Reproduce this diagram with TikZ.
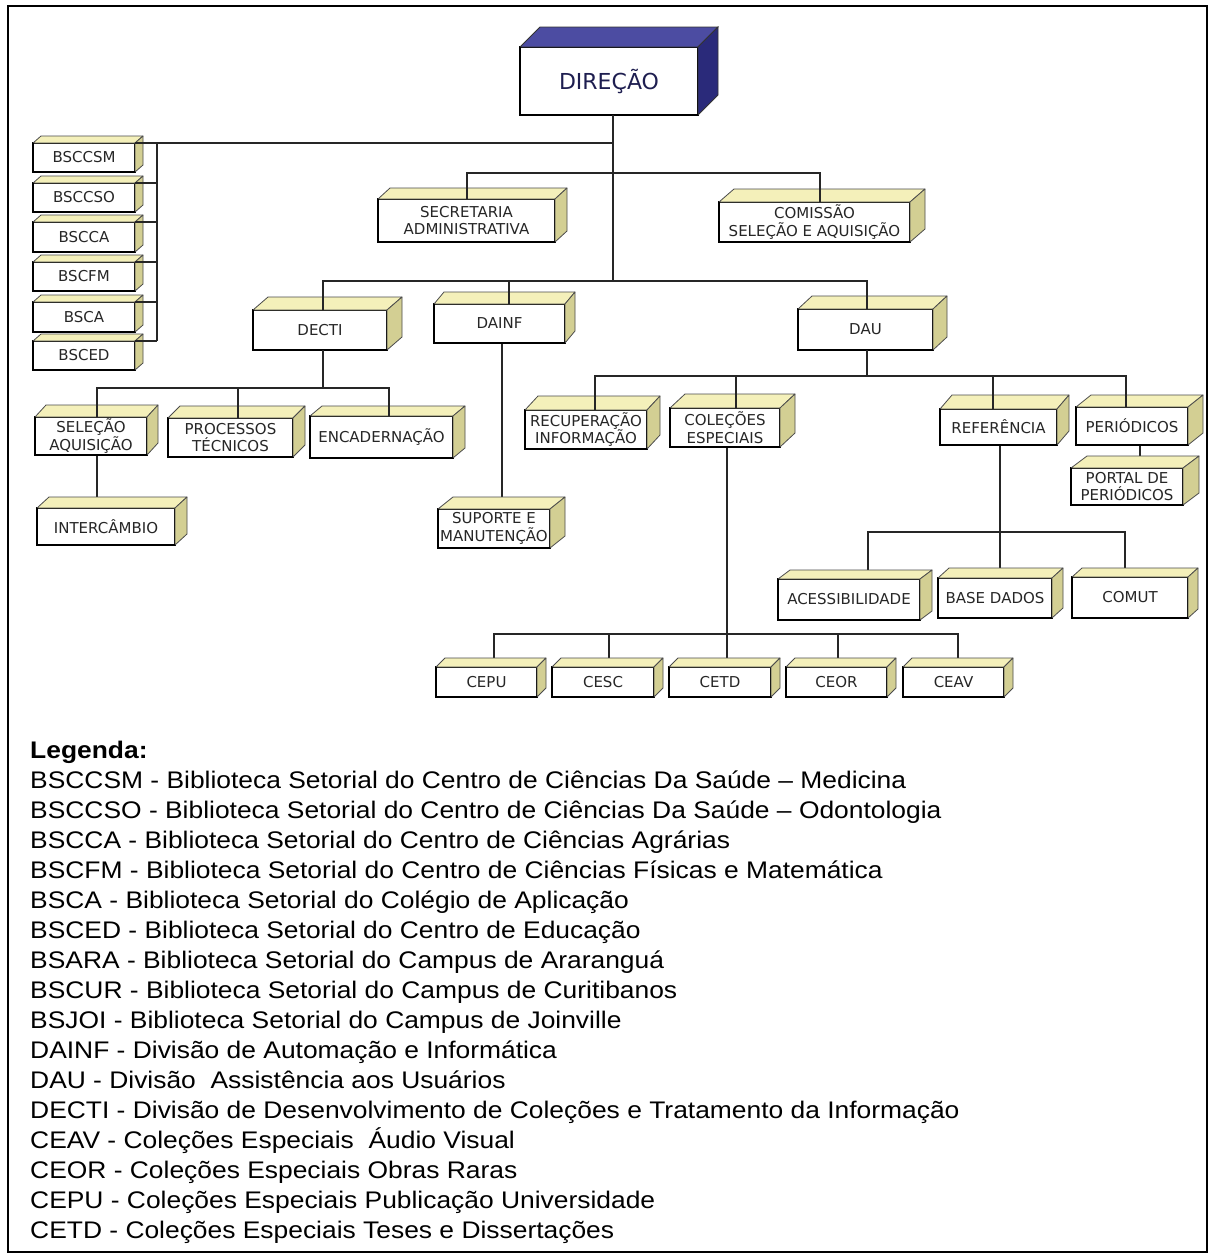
\documentclass[tikz,border=0pt]{standalone}
\usepackage{fontspec}
\setmainfont{Liberation Sans}
\newfontfamily\boxfont{DejaVu Sans}
\newfontfamily\legfont[FakeStretch=1.1]{Liberation Sans}
\pgfdeclarelayer{background}
\pgfsetlayers{background,main}
\definecolor{topy}{HTML}{F4F0BA}
\definecolor{sidey}{HTML}{D3CF93}
\definecolor{topb}{HTML}{4C4CA2}
\definecolor{sideb}{HTML}{2A2A7A}
\definecolor{navy}{HTML}{1E1E50}
\newcommand\cubebox[9][]{%
  \pgfmathsetmacro\cbx{(#3+#5)/2}%
  \pgfmathsetmacro\cby{(#4+#6)/2}%
  \pgfmathsetmacro\cbw{#5-#3}%
  \pgfmathsetmacro\cbh{#6-#4}%
  \node[front,minimum width=\cbw pt,minimum height=\cbh pt,#1] (#2) at (\cbx,\cby) {#9};
  \filldraw[cubetop] (#2.north west) -- ++(#7,-#8) -- ([shift={(#7,-#8)}]#2.north east) -- (#2.north east) -- cycle;
  \filldraw[cubeside] (#2.north east) -- ([shift={(#7,-#8)}]#2.north east) -- ([shift={(#7,-#8)}]#2.south east) -- (#2.south east) -- cycle;
  \draw[edgethick] (#2.north west) -- (#2.south west) -- (#2.south east);
}
\begin{document}
\begin{tikzpicture}[x=1pt,y=-1pt,
  front/.style={draw=black,line width=1.3pt,fill=white,outer sep=0pt,inner sep=0pt,
    align=center,text=black!85,font=\boxfont\fontsize{15}{17.5}\selectfont},
  cubetop/.style={fill=topy,draw=black!70,line width=0.8pt,line join=round},
  cubeside/.style={fill=sidey,draw=black!70,line width=0.8pt,line join=round},
  edgethick/.style={line width=2.6pt,line join=miter},
  conn/.style={draw=black!85,line width=1.4pt},
  leg/.style={anchor=base west,inner sep=0pt,font=\legfont\fontsize{24}{30}\selectfont}]

\useasboundingbox (0,0) rectangle (1214,1258);
\begin{pgfonlayer}{background}
\fill[white] (0,0) rectangle (1214,1258);
\end{pgfonlayer}
\draw[line width=1.8pt] (8,6) rectangle (1207,1252);

% ---------- boxes ----------
\begin{scope}[cubetop/.style={fill=topb,draw=black!80,line width=0.8pt},
              cubeside/.style={fill=sideb,draw=black!80,line width=0.8pt}]
\cubebox[line width=2pt,text=navy,font=\boxfont\fontsize{22}{26}\selectfont]{dir}{520}{47}{698}{115}{20}{20}{DIREÇÃO}
\end{scope}

\cubebox{bsccsm}{33}{143}{135}{172}{8}{7}{BSCCSM}
\cubebox{bsccso}{33}{183}{135}{212}{8}{7}{BSCCSO}
\cubebox{bscca}{33}{222}{135}{252}{8}{7}{BSCCA}
\cubebox{bscfm}{33}{262}{135}{291}{8}{7}{BSCFM}
\cubebox{bsca}{33}{302}{135}{332}{8}{7}{BSCA}
\cubebox{bsced}{33}{341}{135}{370}{8}{7}{BSCED}

\cubebox{sec}{378}{199}{555}{242}{12}{11}{SECRETARIA\\ADMINISTRATIVA}
\cubebox{com}{719}{202}{910}{242}{15}{13}{COMISSÃO\\SELEÇÃO E AQUISIÇÃO}

\cubebox{decti}{253}{310}{387}{350}{15}{13}{DECTI}
\cubebox{dainf}{434}{304}{565}{343}{10}{12}{DAINF}
\cubebox{dau}{798}{309}{933}{350}{14}{13}{DAU}

\cubebox{sel}{35}{417}{147}{455}{11}{12}{SELEÇÃO\\AQUISIÇÃO}
\cubebox{proc}{168}{418}{293}{457}{12}{12}{PROCESSOS\\TÉCNICOS}
\cubebox{enc}{310}{416}{453}{458}{12}{10}{ENCADERNAÇÃO}
\cubebox{inter}{37}{508}{175}{545}{12}{11}{INTERCÂMBIO}
\cubebox{sup}{438}{509}{550}{548}{15}{12}{SUPORTE E\\MANUTENÇÃO}

\cubebox{rec}{525}{410}{647}{449}{13}{14}{RECUPERAÇÃO\\INFORMAÇÃO}
\cubebox{col}{670}{408}{780}{447}{15}{14}{COLEÇÕES\\ESPECIAIS}
\cubebox{ref}{940}{409}{1057}{445}{12}{14}{REFERÊNCIA}
\cubebox{per}{1076}{407}{1188}{445}{15}{12}{PERIÓDICOS}
\cubebox{portal}{1071}{468}{1183}{505}{16}{12}{PORTAL DE\\PERIÓDICOS}

\cubebox{aces}{778}{579}{920}{620}{12}{9}{ACESSIBILIDADE}
\cubebox{base}{938}{578}{1052}{618}{11}{10}{BASE DADOS}
\cubebox{comut}{1072}{577}{1188}{618}{10}{9}{COMUT}

\cubebox{cepu}{436}{667}{537}{697}{9}{9}{CEPU}
\cubebox{cesc}{552}{667}{654}{697}{9}{9}{CESC}
\cubebox{cetd}{669}{667}{771}{697}{9}{9}{CETD}
\cubebox{ceor}{786}{667}{887}{697}{9}{9}{CEOR}
\cubebox{ceav}{903}{667}{1004}{697}{9}{9}{CEAV}

% ---------- junction coordinates ----------
\coordinate (jL) at (613,143);
\coordinate (jM) at (613,281);
\coordinate (lb) at (157,143);
\coordinate (sS) at (467,173);
\coordinate (sC) at (820,173);
\coordinate (mD) at (323,281);
\coordinate (mI) at (509,281);
\coordinate (mU) at (867,281);
\coordinate (dD) at (323,388);
\coordinate (dS) at (97,388);
\coordinate (dP) at (238,388);
\coordinate (dE) at (389,388);
\coordinate (iS) at (502,400);
\coordinate (uJ) at (867,376);
\coordinate (uR) at (595,376);
\coordinate (uC) at (736,376);
\coordinate (uF) at (993,376);
\coordinate (uP) at (1126,376);
\coordinate (pX) at (1140,450);
\coordinate (cJ) at (727,634);
\coordinate (c1) at (494,634);
\coordinate (c2) at (609,634);
\coordinate (c4) at (838,634);
\coordinate (c5) at (958,634);
\coordinate (rJ) at (1000,532);
\coordinate (r1) at (868,532);
\coordinate (r3) at (1125,532);

% ---------- connectors over the top faces ----------
\draw[conn] (dir.south -| jM) -- (jM);
\draw[conn] (bsccsm.north east) -- (jL);
\draw[conn] (lb) -- (lb |- bsced.north);
\foreach \n in {bsccso,bscca,bscfm,bsca,bsced}
  \draw[conn] (\n.north east) -- (\n.north east -| lb);
\draw[conn] (sec.north -| sS) -- (sS) -- (sC) -- (sC |- com.north);
\draw[conn] (decti.north -| mD) -- (mD) -- (mU) -- (mU |- dau.north);
\draw[conn] (mI) -- (mI |- dainf.north);
\draw[conn] (decti.south -| dD) -- (dD);
\draw[conn] (sel.north -| dS) -- (dS) -- (dE) -- (dE |- enc.north);
\draw[conn] (dP) -- (dP |- proc.north);
\draw[conn] (dau.south -| uJ) -- (uJ);
\draw[conn] (rec.north -| uR) -- (uR) -- (uP) -- (uP |- per.north);
\draw[conn] (uC) -- (uC |- col.north);
\draw[conn] (uF) -- (uF |- ref.north);

% ---------- connectors hidden by the top faces ----------
\begin{pgfonlayer}{background}
\draw[conn] (sel.south -| dS) -- (dS |- inter.north);
\draw[conn] (dainf.south -| iS) -- (iS |- sup.north);
\draw[conn] (per.south -| pX) -- (pX |- portal.north);
\draw[conn] (col.south -| cJ) -- (cJ |- cetd.north);
\draw[conn] (cepu.north -| c1) -- (c1) -- (c5) -- (c5 |- ceav.north);
\draw[conn] (c2) -- (c2 |- cesc.north);
\draw[conn] (c4) -- (c4 |- ceor.north);
\draw[conn] (ref.south -| rJ) -- (rJ |- base.north);
\draw[conn] (aces.north -| r1) -- (r1) -- (r3) -- (r3 |- comut.north);
\end{pgfonlayer}

% ---------- legend ----------
\node[leg,font=\legfont\bfseries\fontsize{24}{30}\selectfont] (l0) at (30,758) {Legenda:};
\node[leg] (l1) at (30,788) {BSCCSM - Biblioteca Setorial do Centro de Ciências Da Saúde – Medicina};
\node[leg] (l2) at (30,818) {BSCCSO - Biblioteca Setorial do Centro de Ciências Da Saúde – Odontologia};
\node[leg] (l3) at (30,848) {BSCCA - Biblioteca Setorial do Centro de Ciências Agrárias};
\node[leg] (l4) at (30,878) {BSCFM - Biblioteca Setorial do Centro de Ciências Físicas e Matemática};
\node[leg] (l5) at (30,908) {BSCA - Biblioteca Setorial do Colégio de Aplicação};
\node[leg] (l6) at (30,938) {BSCED - Biblioteca Setorial do Centro de Educação};
\node[leg] (l7) at (30,968) {BSARA - Biblioteca Setorial do Campus de Araranguá};
\node[leg] (l8) at (30,998) {BSCUR - Biblioteca Setorial do Campus de Curitibanos};
\node[leg] (l9) at (30,1028) {BSJOI - Biblioteca Setorial do Campus de Joinville};
\node[leg] (l10) at (30,1058) {DAINF - Divisão de Automação e Informática};
\node[leg] (l11) at (30,1088) {DAU - Divisão~ Assistência aos Usuários};
\node[leg] (l12) at (30,1118) {DECTI - Divisão de Desenvolvimento de Coleções e Tratamento da Informação};
\node[leg] (l13) at (30,1148) {CEAV - Coleções Especiais~ Áudio Visual};
\node[leg] (l14) at (30,1178) {CEOR - Coleções Especiais Obras Raras};
\node[leg] (l15) at (30,1208) {CEPU - Coleções Especiais Publicação Universidade};
\node[leg] (l16) at (30,1238) {CETD - Coleções Especiais Teses e Dissertações};
\end{tikzpicture}
\end{document}
